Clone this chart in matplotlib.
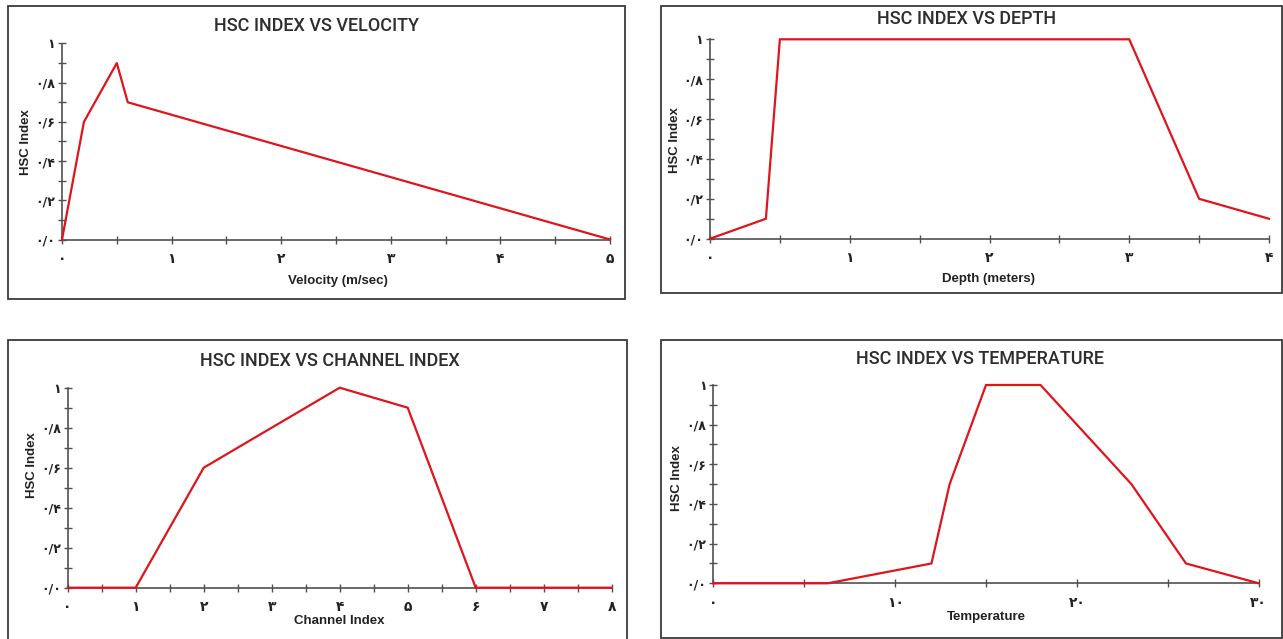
import matplotlib
matplotlib.use("Agg")
import matplotlib.pyplot as plt
from matplotlib.ticker import MultipleLocator, FuncFormatter
from matplotlib.patches import Rectangle

W, H = 1283, 639

# ---- data ----
vel_x = [0, 0.2, 0.5, 0.6, 5]
vel_y = [0, 0.6, 0.9, 0.7, 0]

depth_x = [0, 0.4, 0.5, 3, 3.5, 4]
depth_y = [0, 0.1, 1, 1, 0.2, 0.1]

chan_x = [0, 1, 2, 4, 5, 6, 8]
chan_y = [0, 0, 0.6, 1, 0.9, 0, 0]

temp_x = [0, 6.3, 12, 13, 15, 18, 23, 26, 30]
temp_y = [0, 0, 0.1, 0.5, 1, 1, 0.5, 0.1, 0]

titles = ["HSC INDEX VS VELOCITY", "HSC INDEX VS DEPTH",
          "HSC INDEX VS CHANNEL INDEX", "HSC INDEX VS TEMPERATURE"]
xlabels = ["Velocity (m/sec)", "Depth (meters)", "Channel Index", "Temperature"]
ylabel = "HSC Index"

FA = str.maketrans("0123456789.", "۰۱۲۳۴۵۶۷۸۹/")

def fa_x(v, pos):
    return str(int(round(v))).translate(FA)

def fa_y(v, pos):
    if abs(v - 1) < 1e-9:
        return "۱"
    return ("%.1f" % v).translate(FA)

fig = plt.figure(figsize=(W / 100, H / 100), dpi=100)

def fx(x):
    return x / W

def fy(y):
    return 1 - y / H

panels = [
    dict(x=vel_x, y=vel_y, xlim=(0, 5), major=1, minor=0.5,
         ax=(62, 610, 239.5, 43.5), box=(7.5, 6, 625, 299),
         tpos=(317, 26), xlpos=(338, 281), ylpos=(26, 142)),
    dict(x=depth_x, y=depth_y, xlim=(0, 4), major=1, minor=0.5,
         ax=(710, 1269, 238.7, 39.3), box=(661, 6, 1282, 293),
         tpos=(967, 19), xlpos=(989, 279), ylpos=(675, 140)),
    dict(x=chan_x, y=chan_y, xlim=(0, 8), major=1, minor=0.5,
         ax=(67.7, 611.7, 587.7, 387.7), box=(7.5, 340, 627, 645),
         tpos=(330, 361), xlpos=(339, 621), ylpos=(32, 465)),
    dict(x=temp_x, y=temp_y, xlim=(0, 30), major=10, minor=5,
         ax=(713.3, 1258.7, 583.3, 385), box=(661, 340, 1282, 638),
         tpos=(980, 359), xlpos=(986, 617), ylpos=(677, 478)),
]

grey = "#505050"
for i, p in enumerate(panels):
    bx0, by0, bx1, by1 = p["box"]
    fig.patches.append(Rectangle((fx(bx0), fy(by1)), fx(bx1) - fx(bx0), fy(by0) - fy(by1),
                                 transform=fig.transFigure, fill=False,
                                 edgecolor="#3a3a3a", lw=1.3, zorder=0))
    x0, x1, yb, yt = p["ax"]
    ax = fig.add_axes([fx(x0), fy(yb), fx(x1) - fx(x0), fy(yt) - fy(yb)])
    ax.patch.set_alpha(0)
    ax.plot(p["x"], p["y"], color="#e0141b", lw=1.6, clip_on=False, zorder=5)
    ax.set_xlim(*p["xlim"])
    ax.set_ylim(0, 1)
    for s in ["top", "right"]:
        ax.spines[s].set_visible(False)
    for s in ["left", "bottom"]:
        ax.spines[s].set_color(grey)
        ax.spines[s].set_linewidth(1.2)
    ax.xaxis.set_major_locator(MultipleLocator(p["major"]))
    ax.xaxis.set_minor_locator(MultipleLocator(p["minor"]))
    ax.yaxis.set_major_locator(MultipleLocator(0.2))
    ax.yaxis.set_minor_locator(MultipleLocator(0.1))
    ax.xaxis.set_major_formatter(FuncFormatter(fa_x))
    ax.yaxis.set_major_formatter(FuncFormatter(fa_y))
    ax.tick_params(which="both", direction="inout", length=6, width=1.0, color=grey)
    ax.tick_params(axis="x", which="major", labelsize=10, pad=6, labelcolor="#222222")
    ax.tick_params(axis="y", which="major", labelsize=9, pad=2, labelcolor="#222222")
    for lab in ax.get_xticklabels() + ax.get_yticklabels():
        lab.set_fontfamily(["DejaVu Sans"])
        lab.set_fontweight("bold")

    tx, ty = p["tpos"]
    fig.text(fx(tx), fy(ty), titles[i], ha="center", va="center", fontsize=13,
             fontweight="medium", color="#2e2e2e",
             family=["Roboto", "Liberation Sans", "DejaVu Sans"])
    lx, ly = p["xlpos"]
    fig.text(fx(lx), fy(ly), xlabels[i], ha="center", va="center", fontsize=9.5,
             fontweight="bold", color="#222222", family=["Liberation Sans", "DejaVu Sans"])
    yx, yy = p["ylpos"]
    fig.text(fx(yx), fy(yy), ylabel, ha="center", va="center", fontsize=9.5, rotation=90,
             fontweight="bold", color="#222222", family=["Liberation Sans", "DejaVu Sans"])

fig.savefig("out.png", dpi=100, facecolor="white")
